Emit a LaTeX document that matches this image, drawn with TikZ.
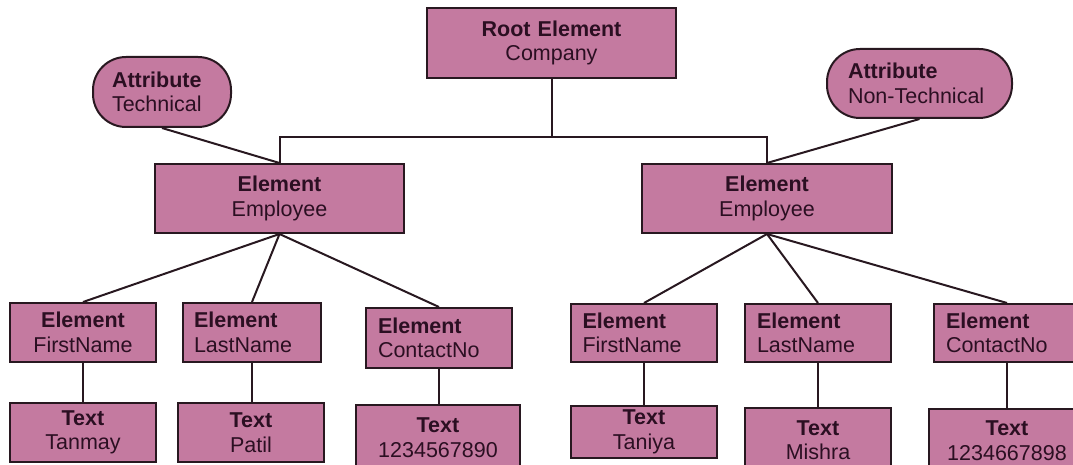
\documentclass[tikz,border=0pt]{standalone}
\usepackage{fontspec}
\setmainfont{Liberation Sans}
\usepackage{tikz}

\definecolor{boxcol}{RGB}{196,122,160}
\definecolor{edgecol}{RGB}{40,24,32}
\definecolor{inkcol}{RGB}{43,15,34}

\tikzset{
  box/.style={draw=edgecol, fill=boxcol, line width=2pt, text=inkcol, inner ysep=0pt,
    font=\fontsize{21.5}{24.5}\selectfont},
  boxc/.style 2 args={box, align=center, inner xsep=0pt, text width=#1, minimum height=#2},
  boxl/.style n args={3}{box, align=left, inner xsep=#3, text width=#1, minimum height=#2},
  attr/.style={rounded corners=33pt},
  link/.style={draw=edgecol, line width=2pt}
}

\begin{document}
\begin{tikzpicture}[x=1pt,y=-1pt]
        \useasboundingbox (0,0) rectangle (1073,465);
        % root and attributes
        \node[boxc={249pt}{70pt}] (root) at (551.5,43) {\textbf{Root Element}\\Company};
        \node[boxl={100pt}{70pt}{19pt}, attr] (attrT) at (162,92) {\textbf{Attribute}\\Technical};
        \node[boxl={143pt}{69pt}{21pt}, attr] (attrN) at (919.5,83.5) {\textbf{Attribute}\\Non-Technical};
        % employees
        \node[boxc={249pt}{69pt}] (empL) at (279.5,198.5) {\textbf{Element}\\Employee};
        \node[boxc={250pt}{69pt}] (empR) at (767,198.5) {\textbf{Element}\\Employee};
        % left children
        \node[boxc={146pt}{59pt}] (fnL) at (83,332.5) {\textbf{Element}\\FirstName};
        \node[boxl={116pt}{59pt}{11pt}] (lnL) at (252,332.5) {\textbf{Element}\\LastName};
        \node[boxl={122pt}{60pt}{12pt}] (cnL) at (439,338) {\textbf{Element}\\ContactNo};
        \node[boxc={146pt}{59pt}] (txTan) at (83,432.5) {\textbf{Text}\\Tanmay};
        \node[boxc={146pt}{59pt}] (txPat) at (251,432.5) {\textbf{Text}\\Patil};
        \node[boxc={164pt}{65pt}] (txNum) at (438,437.5) {\textbf{Text}\\1234567890};
        % right children
        \node[boxl={123pt}{58pt}{11.5pt}] (fnR) at (644,333) {\textbf{Element}\\FirstName};
        \node[boxl={122pt}{58pt}{12pt}] (lnR) at (818,333) {\textbf{Element}\\LastName};
        \node[boxl={122pt}{58pt}{12pt}] (cnR) at (1007,333) {\textbf{Element}\\ContactNo};
        \node[boxc={146pt}{52pt}] (txTaniya) at (644,432) {\textbf{Text}\\Taniya};
        \node[boxc={146pt}{64pt}] (txMishra) at (818,440) {\textbf{Text}\\Mishra};
        \node[boxc={156pt}{63pt}] (txNumR) at (1007,440.5) {\textbf{Text}\\1234667898};

        % connectors
        \coordinate (jn) at (551.5,137);
        \draw[link] (root) -- (jn);
        \draw[link] (empL.north) |- (jn) -| (empR.north);
        \draw[link] (attrT.south) -- (empL.north);
        \draw[link] (attrN.south) -- (empR.north);
        \foreach \c in {fnL,lnL,cnL} \draw[link] (empL.south) -- (\c.north);
        \foreach \c in {fnR,lnR,cnR} \draw[link] (empR.south) -- (\c.north);
        \foreach \a/\b in {fnL/txTan,lnL/txPat,cnL/txNum,fnR/txTaniya,lnR/txMishra,cnR/txNumR}
            \draw[link] (\a.south) -- (\a.south |- \b.north);
\end{tikzpicture}
\end{document}
